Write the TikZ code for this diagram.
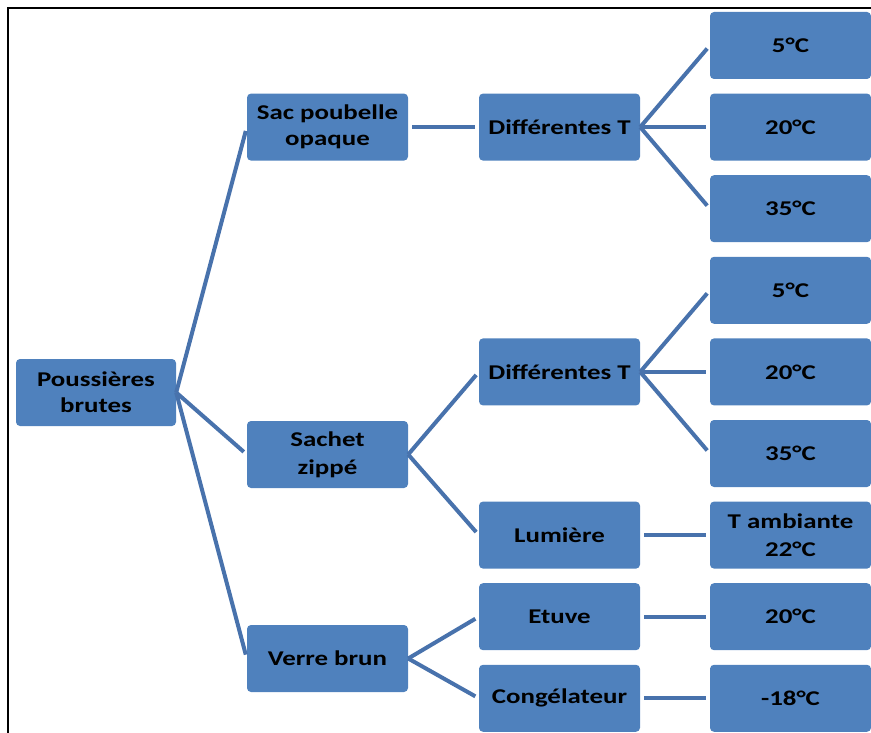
\documentclass[tikz,border=0pt]{standalone}
\usepackage{fontspec}
\setmainfont{Carlito}[FakeStretch=1.28]
\definecolor{boxblue}{RGB}{79,129,189}
\definecolor{linkblue}{RGB}{72,114,172}
\begin{document}
\begin{tikzpicture}[x=1pt,y=-1pt,
  box/.style={draw=none,fill=boxblue,rounded corners=4pt,minimum width=161pt,minimum height=67pt,inner sep=0pt,align=center,text=black,font=\fontsize{21}{26}\selectfont\bfseries},
  link/.style={draw=linkblue,line width=4pt,shorten >=4pt},
  hlink/.style={draw=linkblue,line width=4pt,shorten >=4pt,shorten <=4pt}]
\useasboundingbox (0,0) rectangle (871,733);
\draw[line width=2.2pt,line cap=rect] (8,733) -- (8,8) -- (871,8);
% column 1
\node[box,minimum width=160pt] (root) at (96,392.5) {Poussières\\brutes};
% column 2
\node[box] (sac) at (327.5,127.1) {Sac poubelle\\opaque};
\node[box,font=\fontsize{21}{28}\selectfont\bfseries] (sachet) at (327.5,454.5) {Sachet\\zippé};
\node[box] (verre) at (327.5,658.5) {Verre brun};
% column 3
\node[box] (dt1) at (559.5,127.1) {Différentes T};
\node[box] (dt2) at (559.5,371.9) {Différentes T};
\node[box] (lum) at (559.5,535.1) {Lumière};
\node[box] (etu) at (559.5,616.7) {Etuve};
\node[box] (con) at (559.5,698.3) {Congélateur};
% column 4
\node[box] (a1) at (790.5,45.5) {5°C};
\node[box] (a2) at (790.5,127.1) {20°C};
\node[box] (a3) at (790.5,208.7) {35°C};
\node[box] (b1) at (790.5,290.3) {5°C};
\node[box] (b2) at (790.5,371.9) {20°C};
\node[box] (b3) at (790.5,453.5) {35°C};
\node[box,font=\fontsize{21}{28}\selectfont\bfseries] (amb) at (790.5,535.1) {T ambiante\\22°C};
\node[box] (c1) at (790.5,616.7) {20°C};
\node[box] (c2) at (790.5,698.3) {-18°C};
% connectors
\draw[link] (root.east) -- (sac.west);
\draw[link] (root.east) -- (sachet.west);
\draw[link] (root.east) -- (verre.west);
\draw[hlink] (sac.east) -- (dt1.west);
\draw[link] (sachet.east) -- (dt2.west);
\draw[link] (sachet.east) -- (lum.west);
\draw[link] (verre.east) -- (etu.west);
\draw[link] (verre.east) -- (con.west);
\draw[link] (dt1.east) -- (a1.west);
\draw[hlink,shorten <=0pt] (dt1.east) -- (a2.west);
\draw[link] (dt1.east) -- (a3.west);
\draw[link] (dt2.east) -- (b1.west);
\draw[hlink,shorten <=0pt] (dt2.east) -- (b2.west);
\draw[link] (dt2.east) -- (b3.west);
\draw[hlink] (lum.east) -- (amb.west);
\draw[hlink] (etu.east) -- (c1.west);
\draw[hlink] (con.east) -- (c2.west);
\end{tikzpicture}
\end{document}
